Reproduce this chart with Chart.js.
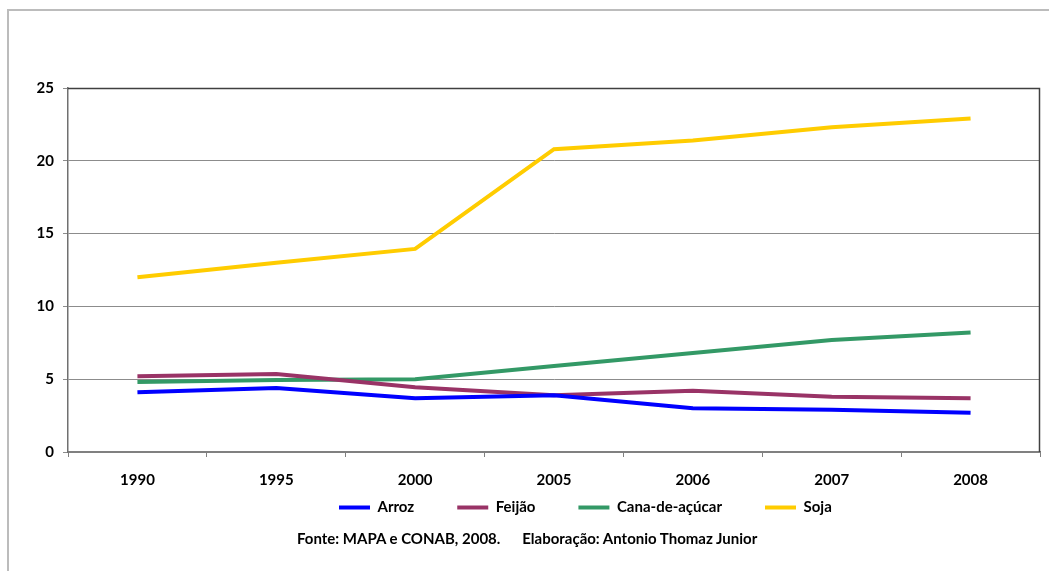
<!DOCTYPE html>
<html><head><meta charset="utf-8">
<script src="https://cdn.jsdelivr.net/npm/chart.js@4"></script>
<style>
html,body{margin:0;padding:0;background:#fff;}
#wrap{position:relative;width:1049px;height:571px;overflow:hidden;}
#frame{position:absolute;left:7px;top:9px;width:1200px;height:700px;border-left:2px solid #bcbcbc;border-top:2px solid #bcbcbc;}
#c{position:absolute;left:0;top:0;}
#src{position:absolute;left:297px;top:529px;font:bold 15px Lato, "Open Sans", sans-serif;color:#000;white-space:pre;}
</style></head>
<body><div id="wrap"><div id="frame"></div><canvas id="c" width="1049" height="571"></canvas>
<div id="src">Fonte: MAPA e CONAB, 2008.      Elaboração: Antonio Thomaz Junior</div></div>
<script>
const categories = ['1990','1995','2000','2005','2006','2007','2008'];
const arroz = [4.1, 4.4, 3.7, 3.9, 3.0, 2.9, 2.7];
const feijao = [5.2, 5.35, 4.45, 3.9, 4.2, 3.8, 3.7];
const cana = [4.8, 4.95, 5.0, 5.9, 6.8, 7.7, 8.2];
const soja = [12.0, 13.0, 13.95, 20.8, 21.4, 22.3, 22.9];
const yTicks = [0, 5, 10, 15, 20, 25];

const font = {family: 'Lato, "Open Sans", sans-serif', weight: 'bold', size: 15};
const legendPad = 43;
const frameBox = {
  id: 'frameBox',
  afterLayout(chart) {
    const lg = chart.legend;
    const h = lg.bottom - lg.top;
    lg.top = chart.chartArea.bottom + (48 - legendPad);
    lg.bottom = lg.top + h;
    const w = lg.right - lg.left;
    lg.left = 339 - legendPad;
    lg.right = lg.left + w;
  },
  afterDraw(chart) {
    const a = chart.chartArea, ctx = chart.ctx;
    ctx.save();
    ctx.strokeStyle = '#404040';
    ctx.lineWidth = 1.5;
    ctx.beginPath();
    ctx.moveTo(a.left, a.top + 0.5);
    ctx.lineTo(a.right - 0.5, a.top + 0.5);
    ctx.lineTo(a.right - 0.5, a.bottom);
    ctx.stroke();
    ctx.restore();
  }
};
function ds(label, data, color) {
  return {label, data, borderColor: color, backgroundColor: color, borderWidth: 4,
    pointRadius: 0, tension: 0, fill: false};
}
new Chart(document.getElementById('c'), {
  type: 'line',
  data: {labels: categories, datasets: [
    ds('Arroz', arroz, '#0000ff'),
    ds('Feijão', feijao, '#993366'),
    ds('Cana-de-açúcar', cana, '#339966'),
    ds('Soja', soja, '#ffcc00')
  ]},
  options: {
    responsive: false, animation: false, devicePixelRatio: 1,
    layout: {padding: {top: 88, left: 8, right: 9, bottom: 11}},
    plugins: {
      legend: {position: 'bottom', align: 'start', labels: {boxWidth: 31, boxHeight: 4, padding: legendPad, color: '#000', font,
        generateLabels(chart) {
          return Chart.defaults.plugins.legend.labels.generateLabels(chart).map(l => Object.assign(l, {lineWidth: 0}));
        }}},
      tooltip: {enabled: false}
    },
    scales: {
      x: {
        offset: true,
        grid: {display: true, offset: true, drawOnChartArea: false, tickLength: 5, color: '#808080'},
        border: {display: true, color: '#808080', width: 2},
        ticks: {color: '#000', font, padding: 14, maxRotation: 0, autoSkip: false},
        afterFit(s) { s.height = 40; }
      },
      y: {
        min: 0, max: 25,
        afterBuildTicks(s) { s.ticks = yTicks.map(v => ({value: v})); },
        grid: {color: '#8c8c8c', lineWidth: 1, tickLength: 5},
        border: {display: true, color: '#707070', width: 1.5},
        ticks: {color: '#000', font, padding: 9},
        afterFit(s) { s.width = 60; }
      }
    }
  },
  plugins: [frameBox]
});
</script></body></html>
